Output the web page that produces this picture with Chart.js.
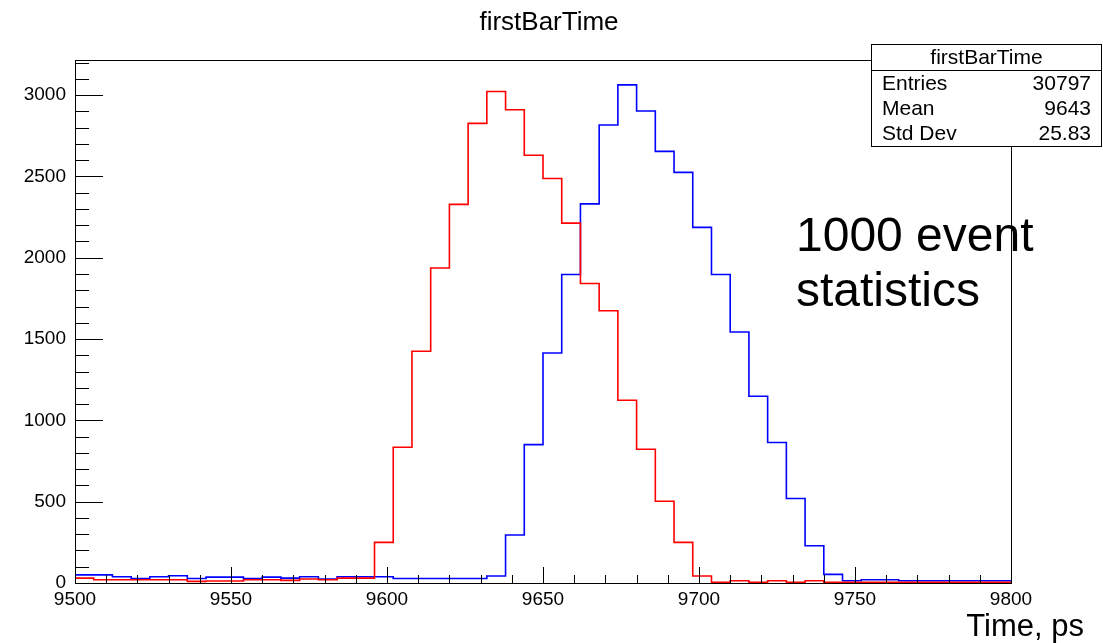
<!DOCTYPE html>
<html>
<head>
<meta charset="utf-8">
<title>firstBarTime</title>
<script src="https://cdn.jsdelivr.net/npm/chart.js@4.4.1/dist/chart.umd.min.js"></script>
<style>
  html, body { margin: 0; padding: 0; background: #ffffff; }
  #wrap { width: 1103px; height: 643px; position: relative; }
</style>
</head>
<body>
<div id="wrap"><canvas id="histo" width="1103" height="643"></canvas></div>
<script>
// Histogram binning: 50 bins of 6 ps between 9500 and 9800 ps
const binLowEdges = [
  9500, 9506, 9512, 9518, 9524, 9530, 9536, 9542, 9548, 9554,
  9560, 9566, 9572, 9578, 9584, 9590, 9596, 9602, 9608, 9614,
  9620, 9626, 9632, 9638, 9644, 9650, 9656, 9662, 9668, 9674,
  9680, 9686, 9692, 9698, 9704, 9710, 9716, 9722, 9728, 9734,
  9740, 9746, 9752, 9758, 9764, 9770, 9776, 9782, 9788, 9794
];
const upperEdge = 9800;

// Bin contents, red histogram
const redCounts = [
  30, 20, 20, 20, 20, 20, 10, 12, 12, 20,
  20, 16, 25, 20, 30, 30, 250, 835, 1425, 1937,
  2328, 2826, 3022, 2910, 2630, 2487, 2213, 1842, 1674, 1124,
  822, 503, 250, 43, 5, 14, 5, 14, 5, 14,
  5, 5, 5, 5, 5, 5, 5, 5, 5, 5
];

// Bin contents, blue histogram
const blueCounts = [
  50, 50, 38, 28, 38, 45, 28, 36, 36, 28,
  36, 30, 38, 24, 38, 38, 38, 28, 28, 28,
  28, 28, 43, 295, 851, 1414, 1897, 2331, 2816, 3063,
  2902, 2654, 2525, 2187, 1897, 1543, 1148, 864, 520, 229,
  53, 14, 20, 20, 14, 14, 14, 14, 14, 14
];

const xTickLabels = [9500, 9550, 9600, 9650, 9700, 9750, 9800];
const yTickLabels = [0, 500, 1000, 1500, 2000, 2500, 3000];
const yMaximum = 3216;

const histTitle = 'firstBarTime';
const xAxisTitle = 'Time, ps';
const noteLines = ['1000 event', 'statistics'];
const statsRows = [
  ['Entries', '30797'],
  ['Mean', '9643'],
  ['Std Dev', '25.83']
];

const FONT = '"Liberation Sans", Arial, Helvetica, sans-serif';

// Step outline points: each bin's low edge carries its content, closed at the upper edge
function stepPoints(counts) {
  const pts = binLowEdges.map((x, i) => ({ x: x, y: counts[i] }));
  pts.push({ x: upperEdge, y: counts[counts.length - 1] });
  return pts;
}

// Frame, inward tick marks, title, stats box and labels
const frameDecor = {
  id: 'frameDecor',
  afterDatasetsDraw(chart) {
    const ctx = chart.ctx;
    const a = chart.chartArea;
    const xs = chart.scales.x;
    const ys = chart.scales.y;
    ctx.save();
    ctx.strokeStyle = '#000000';
    ctx.lineWidth = 1;
    ctx.strokeRect(Math.round(a.left) + 0.5, Math.round(a.top) + 0.5,
                   Math.round(a.right - a.left), Math.round(a.bottom - a.top));

    // x ticks: major every 50, minor every 10, pointing up into the frame
    ctx.beginPath();
    for (let v = xs.min; v <= xs.max + 1e-6; v += 10) {
      const px = Math.round(xs.getPixelForValue(v)) + 0.5;
      const len = ((v - xs.min) % 50 === 0) ? 16 : 8;
      ctx.moveTo(px, a.bottom);
      ctx.lineTo(px, a.bottom - len);
    }
    // y ticks: major every 500, minor every 100, pointing right into the frame
    for (let v = 0; v <= ys.max; v += 100) {
      const py = Math.round(ys.getPixelForValue(v)) + 0.5;
      const len = (v % 500 === 0) ? 28 : 14;
      ctx.moveTo(a.left, py);
      ctx.lineTo(a.left + len, py);
    }
    ctx.stroke();
    ctx.restore();
  },
  afterDraw(chart) {
    const ctx = chart.ctx;
    ctx.save();
    ctx.fillStyle = '#000000';
    ctx.textBaseline = 'middle';

    // histogram title
    ctx.font = '26px ' + FONT;
    ctx.textAlign = 'center';
    ctx.fillText(histTitle, 549, 23);

    // stats box
    const bx = 871.5, by = 44.5, bw = 230, bh = 102;
    ctx.fillStyle = '#ffffff';
    ctx.fillRect(bx, by, bw, bh);
    ctx.strokeStyle = '#000000';
    ctx.lineWidth = 1;
    ctx.strokeRect(bx, by, bw, bh);
    ctx.beginPath();
    ctx.moveTo(bx, 70.5);
    ctx.lineTo(bx + bw, 70.5);
    ctx.stroke();
    ctx.fillStyle = '#000000';
    ctx.font = '21px ' + FONT;
    ctx.textAlign = 'center';
    ctx.fillText(histTitle, bx + bw / 2, 58);
    statsRows.forEach((row, i) => {
      const y = 84 + i * 25;
      ctx.textAlign = 'left';
      ctx.fillText(row[0], 882, y);
      ctx.textAlign = 'right';
      ctx.fillText(row[1], 1091, y);
    });

    // note text inside the frame
    ctx.font = '48px ' + FONT;
    ctx.textAlign = 'left';
    ctx.textBaseline = 'alphabetic';
    noteLines.forEach((line, i) => {
      ctx.fillText(line, 796, 251 + i * 55);
    });

    // x-axis title
    ctx.font = '31px ' + FONT;
    ctx.textAlign = 'right';
    ctx.fillText(xAxisTitle, 1084, 636);
    ctx.restore();
  }
};

new Chart(document.getElementById('histo'), {
  type: 'line',
  data: {
    datasets: [
      {
        label: 'red',
        data: stepPoints(redCounts),
        borderColor: 'rgb(255,0,0)',
        borderWidth: 1.6,
        pointRadius: 0,
        stepped: 'before',
        fill: false
      },
      {
        label: 'blue',
        data: stepPoints(blueCounts),
        borderColor: 'rgb(0,0,255)',
        borderWidth: 1.6,
        pointRadius: 0,
        stepped: 'before',
        fill: false
      }
    ]
  },
  options: {
    responsive: false,
    devicePixelRatio: 1,
    animation: false,
    layout: { padding: { left: 0, right: 92, top: 60, bottom: 0 } },
    plugins: {
      legend: { display: false },
      title: { display: false },
      tooltip: { enabled: false }
    },
    scales: {
      x: {
        type: 'linear',
        min: xTickLabels[0],
        max: xTickLabels[xTickLabels.length - 1],
        afterBuildTicks(scale) {
          scale.ticks = xTickLabels.map(v => ({ value: v }));
        },
        afterFit(scale) { scale.height = 60; },
        grid: { display: false, drawTicks: false },
        border: { display: false },
        ticks: {
          padding: 5,
          color: '#000000',
          font: { family: FONT, size: 19 },
          maxRotation: 0,
          autoSkip: false,
          callback: v => String(v)
        }
      },
      y: {
        type: 'linear',
        min: 0,
        max: yMaximum,
        afterBuildTicks(scale) {
          scale.ticks = yTickLabels.map(v => ({ value: v }));
        },
        afterFit(scale) { scale.width = 75; },
        grid: { display: false, drawTicks: false },
        border: { display: false },
        ticks: {
          padding: 9,
          color: '#000000',
          font: { family: FONT, size: 19 },
          autoSkip: false,
          callback: v => String(v)
        }
      }
    }
  },
  plugins: [frameDecor]
});
</script>
</body>
</html>
